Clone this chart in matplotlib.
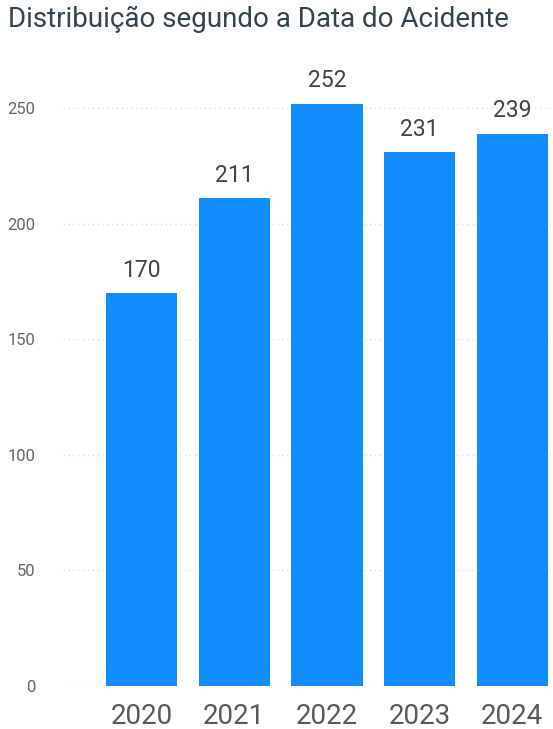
import matplotlib.pyplot as plt

# Data
years = ['2020', '2021', '2022', '2023', '2024']
counts = [170, 211, 252, 231, 239]
yticks = [0, 50, 100, 150, 200, 250]

plt.rcParams['font.family'] = ['Roboto', 'DejaVu Sans']

fig = plt.figure(figsize=(5.53, 7.29), dpi=100)
W, H = 553, 729
# axes placed in pixel terms: left 63, right 553, bottom 686, top 62
ax = fig.add_axes([63 / W, (H - 686) / H, (553 - 63) / W, (686 - 62) / H])

x = list(range(len(years)))
bars = ax.bar(x, counts, width=0.77, color='#118DFF', zorder=3)

for xi, v in zip(x, counts):
    ax.text(xi, v + 5, str(v), ha='center', va='bottom', fontsize=16.5,
            color='#444444', zorder=4)

ax.set_xlim(-0.85, 4.44)
ax.set_ylim(0, 270)
ax.set_yticks(yticks)
ax.set_yticklabels([str(t) for t in yticks])
ax.set_xticks(x)
ax.set_xticklabels(years)

ax.grid(axis='y', linestyle=(0, (1, 2.5)), color='#dcdcdc', linewidth=1, zorder=0)
for s in ax.spines.values():
    s.set_visible(False)
ax.tick_params(axis='y', length=0, pad=20, labelsize=12, labelcolor='#666666')
ax.tick_params(axis='x', length=0, pad=12, labelsize=20, labelcolor='#5a5a5a')

fig.text(8 / W, 1 - 19 / H, 'Distribuição segundo a Data do Acidente',
         ha='left', va='center', fontsize=20, color='#34444e')

fig.savefig('out.png', dpi=100)
